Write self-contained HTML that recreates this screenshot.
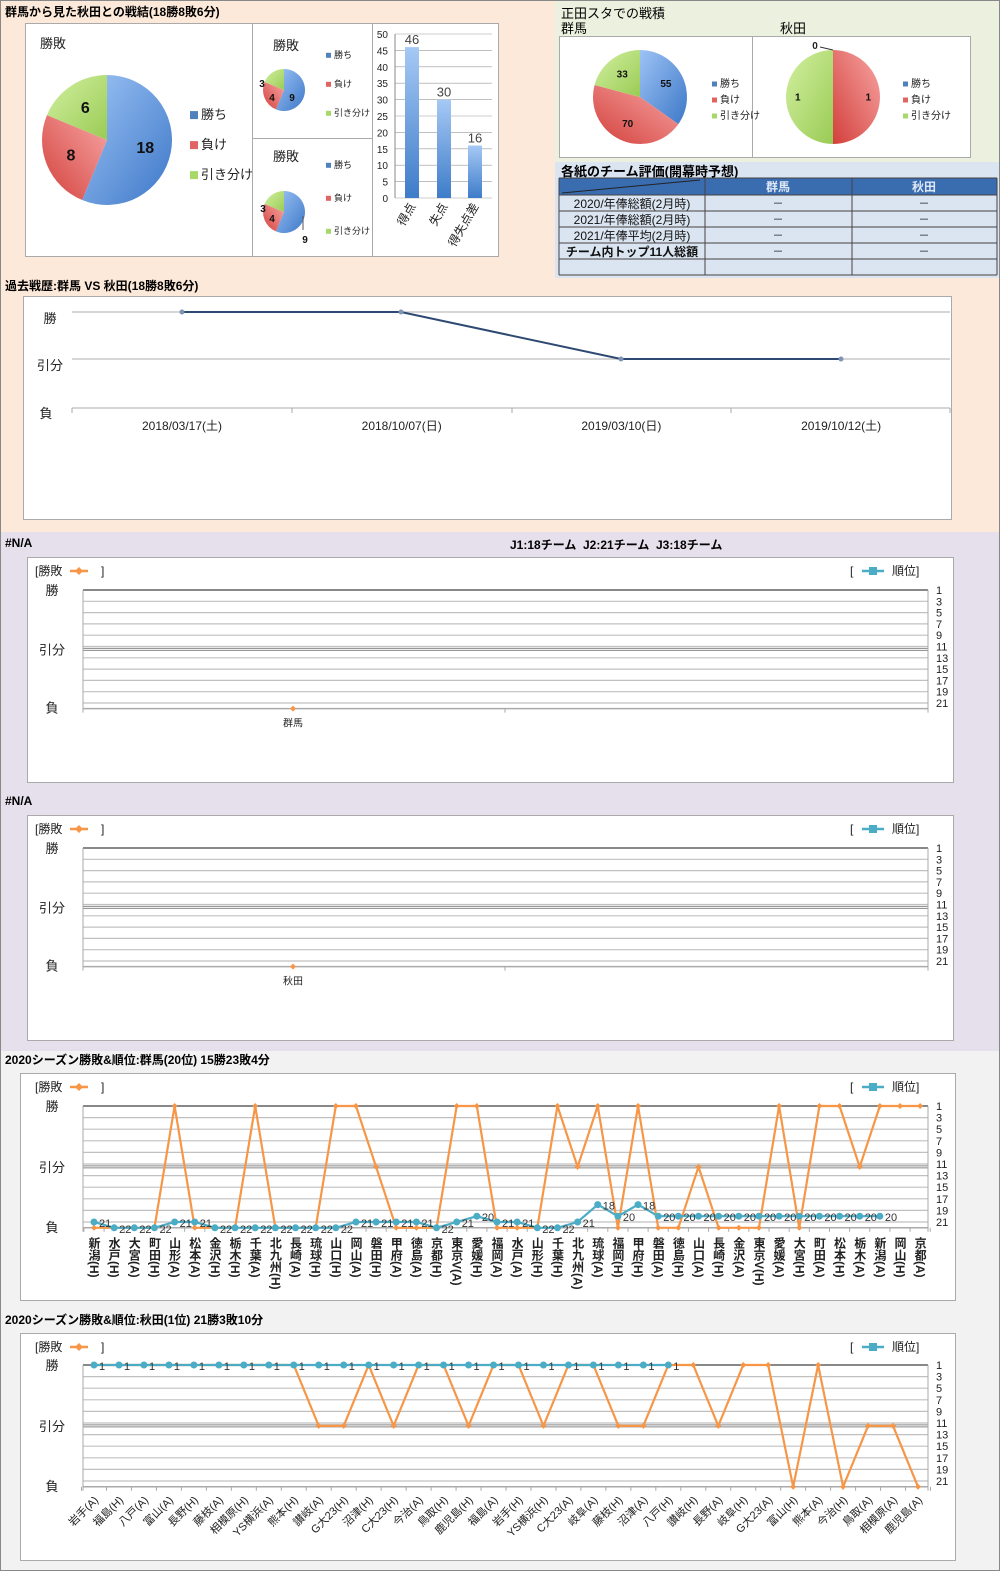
<!DOCTYPE html>
<html><head><meta charset="utf-8">
<style>
html,body{margin:0;padding:0;}
body{width:1000px;height:1571px;position:relative;overflow:hidden;font-family:"Liberation Sans","Noto Sans CJK JP",sans-serif;background:#fff;}
.a{position:absolute;}
.t{position:absolute;font-weight:bold;font-size:12px;color:#000;white-space:nowrap;}
.v{position:absolute;writing-mode:vertical-rl;font-size:12px;font-weight:bold;color:#222;white-space:nowrap;}
svg text{font-family:"Liberation Sans","Noto Sans CJK JP",sans-serif;}
</style></head><body>
<div class="a" style="left:0;top:0;width:1000px;height:532px;background:#fde9d9"></div>
<div class="a" style="left:555px;top:0;width:445px;height:162px;background:#ebf1de"></div>
<div class="a" style="left:555px;top:162px;width:445px;height:116px;background:#dbe5f1"></div>
<div class="a" style="left:0;top:532px;width:1000px;height:519px;background:#e5e0ec"></div>
<div class="a" style="left:0;top:1051px;width:1000px;height:520px;background:#f2f2f2"></div>
<div class="a" style="left:0;top:0;width:998px;height:1569px;border:1px solid #888"></div>

<div class="t" style="left:5px;top:3px">群馬から見た秋田との戦結(18勝8敗6分)</div>
<div class="t" style="left:561px;top:3px;font-weight:normal;font-size:13px">正田スタでの戦積</div>
<div class="t" style="left:561px;top:18px;font-weight:normal;font-size:13px">群馬</div>
<div class="t" style="left:780px;top:18px;font-weight:normal;font-size:13px">秋田</div>
<div class="t" style="left:561px;top:161px;font-size:13px">各紙のチーム評価(開幕時予想)</div>
<div class="t" style="left:5px;top:277px">過去戦歴:群馬 VS 秋田(18勝8敗6分)</div>
<div class="t" style="left:5px;top:536px">#N/A</div>
<div class="t" style="left:510px;top:536px">J1:18チーム&nbsp; J2:21チーム&nbsp; J3:18チーム</div>
<div class="t" style="left:5px;top:794px">#N/A</div>
<div class="t" style="left:5px;top:1051px">2020シーズン勝敗&amp;順位:群馬(20位) 15勝23敗4分</div>
<div class="t" style="left:5px;top:1311px">2020シーズン勝敗&amp;順位:秋田(1位) 21勝3敗10分</div>

<svg id="s" class="a" style="left:0;top:0" width="1000" height="1571" xmlns="http://www.w3.org/2000/svg">
<defs>
<linearGradient id="gb" x1="0" y1="0" x2="1" y2="1"><stop offset="0" stop-color="#9dc3f5"/><stop offset="1" stop-color="#3d78c8"/></linearGradient>
<linearGradient id="gr" x1="1" y1="0" x2="0" y2="1"><stop offset="0" stop-color="#f7a6a4"/><stop offset="1" stop-color="#d3403c"/></linearGradient>
<linearGradient id="gg" x1="0" y1="0" x2="1" y2="1"><stop offset="0" stop-color="#d2f0a0"/><stop offset="1" stop-color="#9acb55"/></linearGradient>
<linearGradient id="gbar" x1="0" y1="0" x2="0" y2="1"><stop offset="0" stop-color="#a6c9f5"/><stop offset="1" stop-color="#3e7cc9"/></linearGradient>
</defs>
</svg>
<div id="lbl"></div>
<script>
var S=document.getElementById('s'),out='',L='';
function R(x,y,w,h,f,s){out+='<rect x="'+x+'" y="'+y+'" width="'+w+'" height="'+h+'" fill="'+f+'"'+(s?' stroke="'+s+'"':'')+'/>';}
function Ln(x1,y1,x2,y2,c,w){out+='<line x1="'+x1+'" y1="'+y1+'" x2="'+x2+'" y2="'+y2+'" stroke="'+c+'" stroke-width="'+(w||1)+'"/>';}
function T(x,y,s,sz,anc,fw,col,extra){out+='<text x="'+x+'" y="'+y+'" font-size="'+sz+'" text-anchor="'+(anc||'start')+'" font-weight="'+(fw||'normal')+'" fill="'+(col||'#222')+'" '+(extra||'')+'>'+s+'</text>';}
function pie(cx,cy,r,vals,labs,lr,fs){
 var tot=vals.reduce((a,b)=>a+b,0),a=0,fills=['url(#gb)','url(#gr)','url(#gg)'];
 vals.forEach(function(v,i){ if(v<=0)return; var a2=a+v/tot*2*Math.PI;
  var x1=cx+r*Math.sin(a),y1=cy-r*Math.cos(a),x2=cx+r*Math.sin(a2),y2=cy-r*Math.cos(a2);
  var big=(a2-a)>Math.PI?1:0;
  if(v==tot) out+='<circle cx="'+cx+'" cy="'+cy+'" r="'+r+'" fill="'+fills[i]+'"/>';
  else out+='<path d="M'+cx+','+cy+' L'+x1+','+y1+' A'+r+','+r+' 0 '+big+' 1 '+x2+','+y2+' Z" fill="'+fills[i]+'"/>';
  if(labs){var m=(a+a2)/2;T(cx+lr*r*Math.sin(m),cy-lr*r*Math.cos(m)+fs*0.35,labs[i],fs,'middle','bold','#111');}
  a=a2;});
}
function legend(x,y,dy,fs,sq){var c=['#4f81bd','#e06462','#a6d96a'],n=['勝ち','負け','引き分け'];
 for(var i=0;i<3;i++){R(x,y+i*dy-sq/2-fs*0.3,sq,sq,c[i]);T(x+sq+3,y+i*dy,n[i],fs,'start','normal','#222');}}
R(25.5,23.5,227,233,'#fff','#aaa');R(252.5,23.5,120,115,'#fff','#aaa');R(252.5,138.5,120,118,'#fff','#aaa');R(372.5,23.5,126,233,'#fff','#aaa');
T(40,48,'勝敗',13);pie(107,140,65,[18,8,6],['18','8','6'],0.6,16);legend(190,119,30,13,8);
T(273,50,'勝敗',13);pie(284,90,21,[9,4,3],null);T(292,101,'9',10,'middle','bold','#111');T(272,101,'4',10,'middle','bold','#111');T(262,87,'3',10,'middle','bold','#111');legend(326,58,29,9,5);
T(273,161,'勝敗',13);pie(284,212,21,[9,4,3],null);T(272,222,'4',10,'middle','bold','#111');T(263,212,'3',10,'middle','bold','#111');Ln(303,216,303,230,'#555');T(305,243,'9',10,'middle','bold','#111');legend(326,168,33,9,5);
for(var k=0;k<=10;k++){var yy=198-k*16.4;Ln(395,yy,492,yy,'#999',0.6);T(388,yy+4,String(k*5),10,'end');}
Ln(395,34,395,198,'#888');
[[405,46],[437,30],[468,16]].forEach(function(b){var h=b[1]*3.28;R(b[0],198-h,14,h,'url(#gbar)');T(b[0]+7,198-h-3,String(b[1]),13,'middle','normal','#444');});
[['得点',412],['失点',444],['得失点差',475]].forEach(function(c){T(c[1]+4,206,c[0],12,'end','normal','#222','transform="rotate(-60 '+(c[1]+4)+' 206)"');});
R(559.5,36.5,193,121,'#fff','#aaa');R(752.5,36.5,218,121,'#fff','#aaa');
pie(640,97,47,[55,70,33],['55','70','33'],0.62,10);legend(712,87,16,10,5);
pie(833,97,47,[0,1,1],['0','1','1'],0.75,10);T(815,49,'0',10,'middle','bold');Ln(820,47,833,50,'#333');legend(903,87,16,10,5);
var tx=[559,705,852,997],ty=[178,195,211,227,243,259,275];
R(559,178,438,17,'#3a6cb0');
for(var r=1;r<6;r++)R(559,ty[r],438,ty[r+1]-ty[r],'#dbe5f1');
for(var r=0;r<ty.length;r++)Ln(559,ty[r],997,ty[r],'#444',1);
for(var c=0;c<4;c++)Ln(tx[c],178,tx[c],275,'#444',1);
Ln(562,193,700,180,'#222',1);
T(778,191,'群馬',12,'middle','bold','#dfe8f5');T(924,191,'秋田',12,'middle','bold','#dfe8f5');
['2020/年俸総額(2月時)','2021/年俸総額(2月時)','2021/年俸平均(2月時)','チーム内トップ11人総額'].forEach(function(s,i){
 T(632,ty[i+1]+13,s,12,'middle',i==3?'bold':'normal','#111');T(778,ty[i+1]+12,'－',11,'middle');T(924,ty[i+1]+12,'－',11,'middle');});
R(23.5,296.5,928,223,'#fff','#aaa');
[312,359,408].forEach(function(y){Ln(72,y,950,y,'#c8c8c8',1.5);});
[72,292,512,731,950].forEach(function(x){Ln(x,408,x,413,'#aaa');});
T(50,323,'勝',13,'middle');T(50,370,'引分',13,'middle');T(46,418,'負',13,'middle');
out+='<polyline points="182,312 401,312 621,359 841,359" fill="none" stroke="#2e4a72" stroke-width="2"/>';
[[182,312],[401,312],[621,359],[841,359]].forEach(function(p){out+='<circle cx="'+p[0]+'" cy="'+p[1]+'" r="2.5" fill="#7f93b5"/>';});
['2018/03/17(土)','2018/10/07(日)','2019/03/10(日)','2019/10/12(土)'].forEach(function(s,i){T(182+i*219.7,430,s,12,'middle');});
function chart(o){
 R(o.bx+0.5,o.by+0.5,o.bw,o.bh,'#fff','#aaa');
 var yT=o.yT,yB=o.yB,st=(yB-yT)/20;function Y(r){return yT+(r-1)*st;}
 for(var r=1;r<=21;r+=2){Ln(83,Y(r),928,Y(r),'#c0c0c0',1.2);T(936,Y(r)+4,String(r),11,'start','normal','#222');}
 Ln(83,Y(1),928,Y(1),'#888',2);Ln(83,Y(11.5)-1,928,Y(11.5)-1,'#888',1);Ln(83,Y(11.5)+1,928,Y(11.5)+1,'#888',1);
 Ln(83,Y(22),928,Y(22),'#aaa',1.5);Ln(83,Y(1),83,Y(22)+4,'#aaa');Ln(928,Y(1),928,Y(22)+4,'#aaa');
 T(52,Y(1)+5,'勝',13,'middle');T(52,Y(11.5)+5,'引分',13,'middle');T(52,Y(22)+4,'負',13,'middle');
 T(35,o.by+18,'[勝敗',12,'start');Ln(70,o.by+14,88,o.by+14,'#f79646',2.5);out+='<path d="M79,'+(o.by+10)+' l4,4 -4,4 -4,-4z" fill="#f79646"/>';T(101,o.by+18,']',12);
 T(850,o.by+18,'[',12);Ln(862,o.by+14,884,o.by+14,'#4bacc6',2.5);R(869,o.by+10,8,8,'#4bacc6');T(892,o.by+18,'順位]',12);
 if(o.n){var x0=o.x0,dx=o.dx;
  for(var i=0;i<=o.n;i++){var xx=x0-dx/2+i*dx;Ln(xx,Y(22),xx,Y(22)+4,'#aaa');}
  var pts=o.res.map(function(v,i){return (x0+i*dx)+','+Y(v);}).join(' ');
  out+='<polyline points="'+pts+'" fill="none" stroke="#f79646" stroke-width="2.2"/>';
  o.res.forEach(function(v,i){var x=x0+i*dx,y=Y(v);out+='<path d="M'+x+','+(y-3)+' l3,3 -3,3 -3,-3z" fill="#f79646"/>';});
  var rp=o.rank.map(function(v,i){return (x0+i*dx)+','+Y(v);}).join(' ');
  out+='<polyline points="'+rp+'" fill="none" stroke="#4bacc6" stroke-width="2.2"/>';
  o.rank.forEach(function(v,i){var x=x0+i*dx,y=Y(v);out+='<circle cx="'+x+'" cy="'+y+'" r="3.5" fill="#4bacc6"/>';T(x+5,y+5,String(v),11,'start','normal','#333');});
  o.cats.forEach(function(c,i){var x=x0+i*dx;
   if(o.vert) L+='<div class="v" style="left:'+(x-8)+'px;top:'+(Y(22)+9)+'px">'+c+'</div>';
   else T(x+5,Y(22)+14,c,11,'end','normal','#222','transform="rotate(-45 '+(x+5)+' '+(Y(22)+14)+')"');});
 }
 return Y;
}
var Y1=chart({bx:27,by:557,bw:926,bh:225,yT:590,yB:703});
Ln(505,Y1(22),505,Y1(22)+4,'#aaa');
out+='<path d="M293,'+(Y1(22)-3)+' l3,3 -3,3 -3,-3z" fill="#f79646"/>';T(293,Y1(22)+18,'群馬',10,'middle');
var Y2=chart({bx:27,by:815,bw:926,bh:225,yT:848,yB:961});
Ln(505,Y2(22),505,Y2(22)+4,'#aaa');
out+='<path d="M293,'+(Y2(22)-3)+' l3,3 -3,3 -3,-3z" fill="#f79646"/>';T(293,Y2(22)+18,'秋田',10,'middle');
var W=1,D=11.5,Lo=22;
chart({bx:20,by:1073,bw:935,bh:227,yT:1106,yB:1222,n:42,x0:94,dx:20.15,vert:1,
 res:[Lo,Lo,Lo,Lo,W,Lo,Lo,Lo,W,Lo,Lo,Lo,W,W,D,Lo,Lo,Lo,W,W,Lo,Lo,Lo,W,D,W,Lo,W,Lo,Lo,D,Lo,Lo,Lo,W,Lo,W,W,D,W,W,W],
 rank:[21,22,22,22,21,21,22,22,22,22,22,22,22,21,21,21,21,22,21,20,21,21,22,22,21,18,20,18,20,20,20,20,20,20,20,20,20,20,20,20],
 cats:['新潟(H)','水戸(H)','大宮(A)','町田(H)','山形(A)','松本(A)','金沢(H)','栃木(H)','千葉(A)','北九州(H)','長崎(A)','琉球(H)','山口(H)','岡山(A)','磐田(H)','甲府(A)','徳島(A)','京都(H)','東京V(A)','愛媛(H)','福岡(A)','水戸(A)','山形(H)','千葉(H)','北九州(A)','琉球(A)','福岡(H)','甲府(H)','磐田(A)','徳島(H)','山口(A)','長崎(H)','金沢(A)','東京V(H)','愛媛(A)','大宮(H)','町田(A)','松本(H)','栃木(A)','新潟(A)','岡山(H)','京都(A)']});
var ak=[W,W,W,W,W,W,W,W,W,D,D,W,D,W,W,D,W,W,D,W,W,D,D,W,W,D,W,W,Lo,W,Lo,D,D,Lo],akr=[];for(var i=0;i<24;i++)akr.push(1);
chart({bx:20,by:1333,bw:935,bh:227,yT:1365,yB:1481,n:34,x0:94,dx:24.97,vert:0,res:ak,rank:akr,
 cats:['岩手(A)','福島(H)','八戸(A)','富山(A)','長野(H)','藤枝(A)','相模原(H)','YS横浜(A)','熊本(H)','讃岐(A)','G大23(H)','沼津(H)','C大23(H)','今治(A)','鳥取(H)','鹿児島(H)','福島(A)','岩手(H)','YS横浜(H)','C大23(A)','岐阜(A)','藤枝(H)','沼津(A)','八戸(H)','讃岐(H)','長野(A)','岐阜(H)','G大23(A)','富山(H)','熊本(A)','今治(H)','鳥取(A)','相模原(A)','鹿児島(A)']});
S.insertAdjacentHTML('beforeend',out);
document.getElementById('lbl').innerHTML=L;
</script>
</body></html>
